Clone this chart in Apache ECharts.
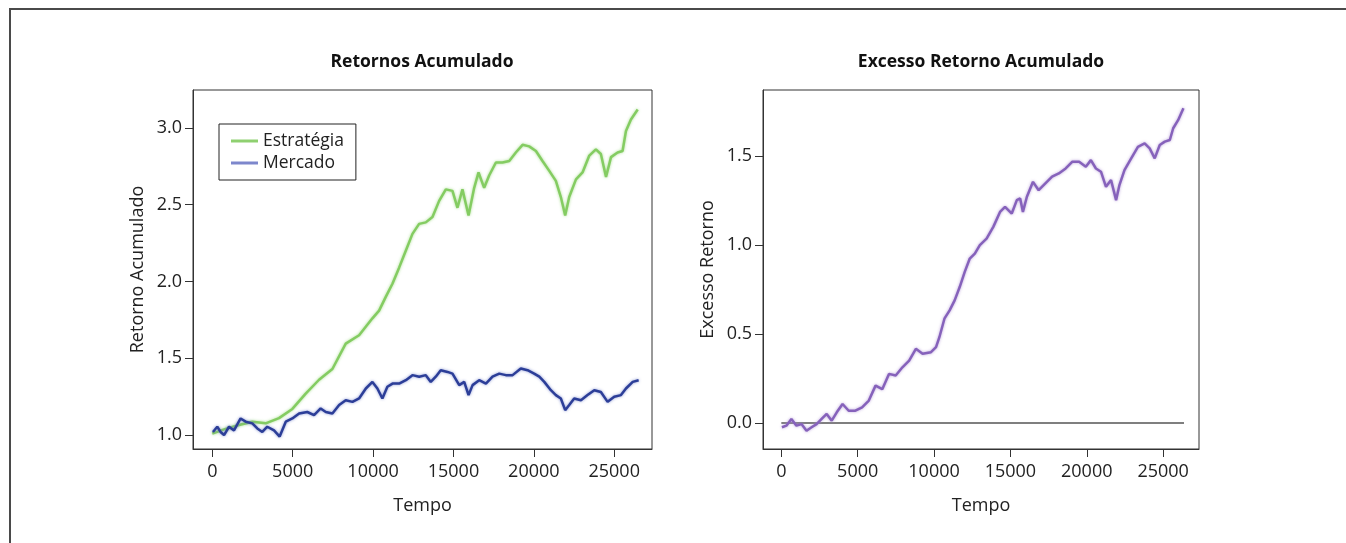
<!DOCTYPE html>
<html>
<head>
<meta charset="utf-8">
<title>Retornos Acumulado</title>
<script src="https://cdn.jsdelivr.net/npm/echarts@6/dist/echarts.min.js"></script>
<style>
  html, body { margin: 0; padding: 0; background: #fff; }
  #main { width: 1346px; height: 543px; }
</style>
</head>
<body>
<div id="main"></div>
<script>
// valores
var tempoEstrategia = [0, 830, 1660, 2490, 3320, 4150, 4980, 5810, 6640, 7470, 8300, 9130, 9960, 10375, 10790, 11205,
  11620, 12035, 12450, 12865, 13280, 13695, 14110, 14525, 14940, 15250, 15560, 15940, 16290, 16560, 16910, 17220,
  17640, 18050, 18470, 18880, 19300, 19710, 20130, 20540, 20960, 21370, 21680, 21950, 22200, 22620, 23030, 23450,
  23860, 24170, 24490, 24800, 25210, 25520, 25730, 26040, 26460];
var estrategia = [1.01, 1.04, 1.065, 1.087, 1.076, 1.11, 1.17, 1.27, 1.36, 1.43, 1.595, 1.65, 1.76, 1.81, 1.90, 1.985,
  2.09, 2.20, 2.31, 2.375, 2.385, 2.42, 2.525, 2.60, 2.59, 2.48, 2.60, 2.43, 2.61, 2.71, 2.61, 2.69,
  2.775, 2.775, 2.785, 2.84, 2.89, 2.88, 2.85, 2.785, 2.72, 2.655, 2.55, 2.43, 2.55, 2.665, 2.71, 2.82,
  2.86, 2.83, 2.68, 2.81, 2.84, 2.85, 2.98, 3.055, 3.12];

var tempoMercado = [40, 310, 520, 730, 1040, 1350, 1760, 2080, 2490, 2800, 3110, 3420, 3840, 4190, 4570, 4980,
  5400, 5910, 6330, 6740, 7060, 7470, 7890, 8300, 8720, 9130, 9550, 9960, 10270, 10580, 10890, 11210,
  11620, 12040, 12450, 12870, 13280, 13590, 13900, 14210, 14630, 14940, 15360, 15670, 15940, 16190, 16600, 17020,
  17430, 17850, 18260, 18680, 19190, 19610, 20020, 20340, 20650, 21060, 21370, 21680, 21950, 22200, 22510, 22930,
  23340, 23760, 24170, 24590, 25000, 25420, 25730, 26150, 26520];
var mercado = [1.02, 1.054, 1.02, 1.0, 1.054, 1.03, 1.108, 1.087, 1.076, 1.043, 1.02, 1.054, 1.03, 0.99, 1.087, 1.108,
  1.14, 1.15, 1.13, 1.173, 1.15, 1.14, 1.195, 1.227, 1.216, 1.238, 1.303, 1.346, 1.303, 1.238, 1.314, 1.335,
  1.335, 1.357, 1.39, 1.38, 1.39, 1.346, 1.38, 1.422, 1.411, 1.40, 1.325, 1.346, 1.26, 1.325, 1.357, 1.335,
  1.38, 1.40, 1.39, 1.39, 1.433, 1.422, 1.40, 1.38, 1.346, 1.292, 1.26, 1.238, 1.162, 1.195, 1.238, 1.227,
  1.26, 1.292, 1.28, 1.216, 1.249, 1.26, 1.303, 1.346, 1.357];

var tempoExcesso = [40, 330, 660, 990, 1320, 1650, 1980, 2310, 2640, 2970, 3300, 3630, 4010, 4410, 4850, 5290,
  5730, 6170, 6610, 7050, 7490, 7930, 8370, 8810, 9250, 9800, 10130, 10350, 10680, 11020, 11350, 11680,
  12010, 12340, 12670, 13000, 13440, 13880, 14320, 14650, 15090, 15420, 15640, 15820, 16080, 16480, 16850, 17290,
  17730, 18170, 18620, 19060, 19500, 19940, 20270, 20600, 20930, 21260, 21590, 21920, 22140, 22470, 22910, 23350,
  23790, 24120, 24450, 24780, 25110, 25440, 25660, 25990, 26330];
var excesso = [-0.024, -0.015, 0.023, -0.015, -0.006, -0.043, -0.024, -0.006, 0.023, 0.051, 0.013, 0.06, 0.107, 0.069, 0.069, 0.088,
  0.126, 0.21, 0.19, 0.276, 0.267, 0.313, 0.351, 0.417, 0.389, 0.398, 0.426, 0.482, 0.586, 0.633, 0.689, 0.764,
  0.849, 0.924, 0.952, 0.999, 1.036, 1.102, 1.186, 1.215, 1.177, 1.252, 1.262, 1.186, 1.271, 1.355, 1.308, 1.346,
  1.384, 1.402, 1.430, 1.468, 1.468, 1.44, 1.477, 1.430, 1.412, 1.327, 1.365, 1.252, 1.337, 1.421, 1.487, 1.552,
  1.571, 1.543, 1.487, 1.562, 1.581, 1.590, 1.656, 1.703, 1.768];

var tempoZero = [0, 26370];
var zero = [0, 0];

var ticksTempo = [0, 5000, 10000, 15000, 20000, 25000];
var ticksRetorno = [1.0, 1.5, 2.0, 2.5, 3.0];
var ticksExcesso = [0.0, 0.5, 1.0, 1.5];

function pares(xs, ys) {
  return xs.map(function (x, i) { return [x, ys[i]]; });
}

var fonte = 'Open Sans';
var corTexto = '#222';

function eixoX(idx) {
  return {
    gridIndex: idx,
    type: 'value',
    min: -1200,
    max: 27350,
    name: 'Tempo',
    nameLocation: 'middle',
    nameGap: 48,
    nameTextStyle: { fontFamily: fonte, fontSize: 18, color: corTexto },
    axisLine: { show: true, onZero: false, lineStyle: { color: '#333', width: 1 } },
    axisTick: { show: true, inside: false, length: 8, customValues: ticksTempo, lineStyle: { color: '#333' } },
    axisLabel: {
      customValues: ticksTempo, margin: 14, fontFamily: fonte, fontSize: 18, color: corTexto,
      formatter: function (v) { return String(v); }
    },
    splitLine: { show: false }
  };
}

function eixoY(idx, nome, min, max, ticks) {
  return {
    gridIndex: idx,
    type: 'value',
    min: min,
    max: max,
    name: nome,
    nameLocation: 'middle',
    nameGap: 46,
    nameTextStyle: { fontFamily: fonte, fontSize: 18, color: corTexto },
    axisLine: { show: true, onZero: false, lineStyle: { color: '#333', width: 1 } },
    axisTick: { show: true, inside: false, length: 8, customValues: ticks, lineStyle: { color: '#333' } },
    axisLabel: {
      customValues: ticks, margin: 11, fontFamily: fonte, fontSize: 18, color: corTexto,
      formatter: function (v) { return v.toFixed(1); }
    },
    splitLine: { show: false }
  };
}

var chart = echarts.init(document.getElementById('main'));

var option = {
  animation: false,
  backgroundColor: '#fff',
  graphic: [
    {
      type: 'rect',
      shape: { x: 10, y: 9, width: 1500, height: 700 },
      style: { fill: 'none', stroke: '#4a4a4a', lineWidth: 2 },
      silent: true
    }
  ],
  title: [
    {
      text: 'Retornos Acumulado', left: 422, top: 53, textAlign: 'center', padding: 0,
      textStyle: { fontFamily: fonte, fontWeight: 'bold', fontSize: 17.5, color: '#111' }
    },
    {
      text: 'Excesso Retorno Acumulado', left: 981, top: 53, textAlign: 'center', padding: 0,
      textStyle: { fontFamily: fonte, fontWeight: 'bold', fontSize: 17.5, color: '#111' }
    }
  ],
  legend: {
    orient: 'vertical',
    left: 219,
    top: 124,
    padding: [8, 12, 8, 12],
    itemGap: 4,
    itemWidth: 27,
    itemHeight: 3,
    icon: 'rect',
    borderColor: '#222',
    borderWidth: 1,
    borderRadius: 0,
    textStyle: { fontFamily: fonte, fontSize: 17.5, color: corTexto },
    data: [
      { name: 'Estratégia', itemStyle: { color: '#8fd070' } },
      { name: 'Mercado', itemStyle: { color: '#7d87cc' } }
    ]
  },
  grid: [
    { left: 193, right: 694, top: 90, bottom: 94, show: true, borderColor: '#333', borderWidth: 1, containLabel: false },
    { left: 763, right: 147, top: 90, bottom: 94, show: true, borderColor: '#333', borderWidth: 1, containLabel: false }
  ],
  xAxis: [eixoX(0), eixoX(1)],
  yAxis: [
    eixoY(0, 'Retorno Acumulado', 0.909, 3.247, ticksRetorno),
    eixoY(1, 'Excesso Retorno', -0.146, 1.871, ticksExcesso)
  ],
  series: [
    {
      name: 'Estratégia', type: 'line', xAxisIndex: 0, yAxisIndex: 0, showSymbol: false,
      lineStyle: { color: '#84cc62', width: 2.5, shadowBlur: 3, shadowColor: 'rgba(150,215,120,0.8)' },
      itemStyle: { color: '#84cc62' },
      data: pares(tempoEstrategia, estrategia)
    },
    {
      name: 'Mercado', type: 'line', xAxisIndex: 0, yAxisIndex: 0, showSymbol: false,
      lineStyle: { color: '#2c3e98', width: 2.5, shadowBlur: 3, shadowColor: 'rgba(110,125,200,0.8)' },
      itemStyle: { color: '#2c3e98' },
      data: pares(tempoMercado, mercado)
    },
    {
      name: 'Excesso', type: 'line', xAxisIndex: 1, yAxisIndex: 1, showSymbol: false,
      lineStyle: { color: '#8662bb', width: 2.5, shadowBlur: 3, shadowColor: 'rgba(170,140,210,0.8)' },
      itemStyle: { color: '#8662bb' },
      data: pares(tempoExcesso, excesso)
    },
    {
      name: 'Zero', type: 'line', xAxisIndex: 1, yAxisIndex: 1, showSymbol: false,
      lineStyle: { color: '#000', width: 1.2 },
      data: pares(tempoZero, zero),
      z: 1
    }
  ]
};

chart.setOption(option);
</script>
</body>
</html>
